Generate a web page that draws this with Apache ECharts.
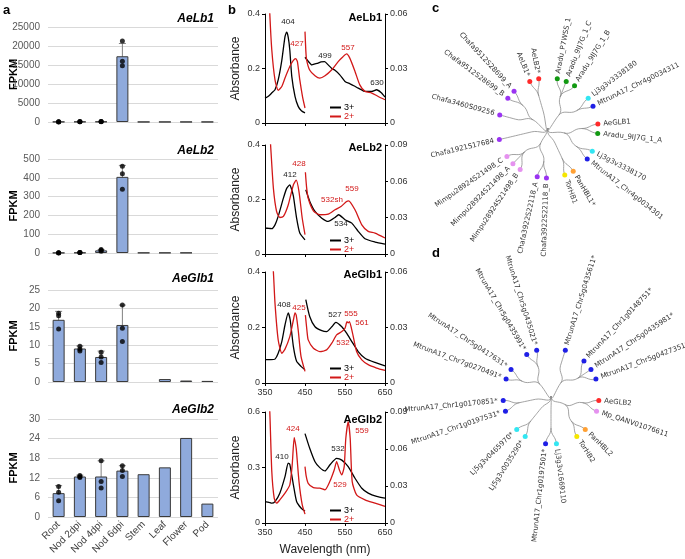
<!DOCTYPE html>
<html>
<head>
<meta charset="utf-8">
<script src="https://cdn.jsdelivr.net/npm/echarts@6/dist/echarts.min.js"></script>
<style>
  html, body { margin: 0; background: #fff; }
  #chart { width: 685px; height: 559px; }
</style>
</head>
<body>
<div id="chart"></div>
<script>
// ---------- panel a : FPKM per tissue ----------
const tissues = ['Root', 'Nod 2dpi', 'Nod 4dpi', 'Nod 6dpi', 'Stem', 'Leaf', 'Flower', 'Pod']

const lb1Mean = [60, 80, 100, 17300, 30, 30, 30, 30]
const lb1Reps = [[30, 60, 90], [50, 80, 110], [70, 100, 130], [21300, 16000, 14800], [], [], [], []]
const lb1Err = [null, null, null, [13850, 20650], null, null, null, null]

const lb2Mean = [1, 2, 14, 405, 1.5, 1.5, 1.5, null]
const lb2Reps = [[0.5, 1, 1.5], [2, 3, 2.5], [18, 14, 9], [462, 421, 339], [], [], [], []]
const lb2Err = [null, null, [9, 18], [345, 466], null, null, null, null]

const glb1Mean = [16.9, 9.1, 6.8, 15.5, null, 0.8, 0.4, 0.3]
const glb1Reps = [[18.7, 18, 14.4], [9.7, 8.9, 8.4], [8.1, 6.8, 5.3], [20.9, 14.6, 11], [], [], [], []]
const glb1Err = [[13.7, 19.2], [8.4, 9.8], [5.1, 8.4], [10.5, 20.9], null, null, null, null]

const glb2Mean = [7.3, 12.4, 12.4, 14.2, 13.1, 15.2, 24.2, 4.1]
const glb2Reps = [[9.3, 7.6, 5], [12.7, 12.1, 12.3], [17.2, 10.9, 8.9], [15.7, 14.2, 12.4], [], [], [], []]
const glb2Err = [[4.9, 9.6], [12, 12.8], [8, 17.2], [12.4, 15.7], null, null, null, null]

// ---------- panel b : absorbance spectra [nm, absorbance] ----------
const lb1Fe3Soret = [[350, 0.091], [360, 0.100], [368, 0.112], [375, 0.122], [383, 0.158], [392, 0.230], [400, 0.317], [404, 0.333], [408, 0.315], [412, 0.268], [417, 0.170], [425, 0.098], [433, 0.061], [441, 0.045], [450, 0.037]]
const lb1Fe2Soret = [[358, 0.55], [362, 0.40], [367, 0.268], [375, 0.158], [383, 0.120], [392, 0.134], [400, 0.165], [412, 0.207], [420, 0.228], [427, 0.236], [431, 0.225], [437, 0.158], [444, 0.095], [450, 0.055]]
const lb1Fe3Vis = [[450, 0.0362], [458, 0.034], [467, 0.032], [475, 0.0325], [483, 0.033], [490, 0.0336], [499, 0.0338], [508, 0.032], [517, 0.030], [525, 0.029], [537, 0.0265], [550, 0.0229], [562, 0.0216], [572, 0.0205], [583, 0.0192], [600, 0.0174], [617, 0.0174], [629, 0.0183], [640, 0.0168], [650, 0.0143]]
const lb1Fe2Vis = [[450, 0.0503], [452, 0.040], [454, 0.0348], [462, 0.029], [475, 0.026], [487, 0.0247], [500, 0.026], [517, 0.0293], [533, 0.0338], [545, 0.0365], [554, 0.038], [562, 0.0357], [575, 0.0284], [587, 0.021], [600, 0.0174], [617, 0.0165], [633, 0.0146], [650, 0.0128]]

const lb2Fe3Soret = [[350, 0.095], [360, 0.094], [367, 0.093], [375, 0.107], [383, 0.138], [396, 0.205], [404, 0.240], [412, 0.254], [417, 0.235], [421, 0.212], [429, 0.132], [437, 0.077], [450, 0.052]]
const lb2Fe2Soret = [[360, 0.50], [364, 0.40], [371, 0.241], [379, 0.156], [387, 0.134], [396, 0.138], [408, 0.180], [421, 0.254], [428, 0.271], [435, 0.229], [443, 0.132], [450, 0.071]]
const lb2Fe3Vis = [[452, 0.053], [462, 0.0434], [475, 0.0351], [492, 0.0296], [508, 0.0269], [525, 0.0302], [534, 0.0324], [550, 0.0283], [567, 0.0255], [583, 0.0187], [600, 0.0126], [625, 0.0099], [650, 0.0082]]
const lb2Fe2Vis = [[451, 0.0675], [454, 0.055], [458, 0.046], [471, 0.0357], [487, 0.0324], [508, 0.0329], [525, 0.0365], [540, 0.0392], [554, 0.0434], [559, 0.0439], [575, 0.0365], [592, 0.0241], [608, 0.0187], [625, 0.0173], [650, 0.0132]]

const glb1Fe3Soret = [[350, 0.084], [365, 0.084], [375, 0.086], [383, 0.107], [392, 0.149], [400, 0.209], [408, 0.253], [413, 0.227], [421, 0.131], [429, 0.078], [440, 0.060], [450, 0.048]]
const glb1Fe2Soret = [[368, 0.45], [371, 0.40], [375, 0.287], [383, 0.155], [392, 0.107], [400, 0.122], [412, 0.167], [421, 0.227], [425, 0.253], [428, 0.245], [433, 0.191], [440, 0.096], [450, 0.042]]
const glb1Fe3Vis = [[452, 0.0451], [462, 0.0358], [475, 0.0304], [492, 0.0283], [504, 0.0278], [517, 0.0304], [527, 0.0328], [542, 0.0304], [554, 0.0269], [567, 0.0224], [583, 0.017], [600, 0.0134], [625, 0.0111], [650, 0.0093]]
const glb1Fe2Vis = [[451, 0.0367], [455, 0.028], [458, 0.0233], [471, 0.0188], [487, 0.017], [504, 0.0179], [517, 0.0215], [529, 0.026], [542, 0.0278], [550, 0.0296], [555, 0.0331], [558, 0.0325], [561, 0.0331], [568, 0.0278], [579, 0.017], [592, 0.0125], [608, 0.0099], [629, 0.0081], [650, 0.0068]]

const glb2Fe3Soret = [[350, 0.116], [360, 0.112], [367, 0.107], [375, 0.116], [387, 0.161], [400, 0.251], [408, 0.323], [412, 0.317], [421, 0.206], [429, 0.116], [440, 0.081], [450, 0.063]]
const glb2Fe2Soret = [[358, 0.75], [362, 0.60], [367, 0.278], [373, 0.134], [379, 0.107], [387, 0.125], [400, 0.161], [412, 0.206], [418, 0.314], [423, 0.462], [428, 0.403], [435, 0.224], [443, 0.099], [450, 0.048]]
const glb2Fe3Vis = [[450, 0.0725], [462, 0.0604], [475, 0.0497], [487, 0.0449], [500, 0.0422], [512, 0.047], [529, 0.0524], [542, 0.051], [558, 0.0457], [575, 0.0363], [592, 0.0282], [608, 0.0242], [629, 0.0215], [650, 0.0201]]
const glb2Fe2Vis = [[450, 0.0457], [453, 0.038], [458, 0.0322], [471, 0.0287], [487, 0.0282], [500, 0.0269], [512, 0.0336], [523, 0.043], [529, 0.0497], [536, 0.043], [542, 0.039], [548, 0.0457], [552, 0.0685], [558, 0.082], [563, 0.0685], [568, 0.0336], [579, 0.0228], [600, 0.0188], [625, 0.0161], [650, 0.0134]]

// ---------- panels c, d : tree topology (nested leaf names) ----------
const treeC = [
  [['Aradu_P7WSS_1', 'Aradu_9IJ7G_1_C', 'Aradu_9IJ7G_1_B'], ['Lj3g3v3338180', 'MtrunA17_Chr4g0034311']],
  [['AeGLB1', 'Aradu_9IJ7G_1_A'], ['Lj3g3v3338170', 'MtrunA17_Chr4g0034301']],
  [['PanHBL1*', 'TorHB1']],
  [['Chafa3922S22118_B', 'Chafa3922S22118_A'], ['Mimpu28924S21498_B', 'Mimpu28924S21498_A', 'Mimpu28924S21498_C']],
  [['Chafa1921S17684']],
  [['Chafa3460S09256'], ['Chafa9512S28699_B', 'Chafa9512S28699_A']],
  [['AeLB1*', 'AeLB2*']]
]
const treeD = [
  [['MtrunA17_Chr5g0435611*'], ['MtrunA17_Chr1g0148751*', 'MtrunA17_Chr5g0435981*', 'MtrunA17_Chr5g0427351*']],
  [['AeGLB2', 'Mp_QANV01076611'], ['PanHBL2', 'TorHB2']],
  [['Lj3g3v1669110', 'MtrunA17_Chr1g0197501*']],
  [['Lj5g3v0035290*', 'Lj5g3v0465970*']],
  [['MtrunA17_Chr1g0197531*', 'MtrunA17_Chr1g0170851*']],
  [['MtrunA17_Chr7g0270491*', 'MtrunA17_Chr5g0417631*'], ['MtrunA17_Chr5g0435991*', 'MtrunA17_Chr5g0435021*']]
]
const speciesColors = [['Ae', '#ff2a2a'], ['Aradu', '#129912'], ['Lj', '#33e6f2'], ['Mtrun', '#1f1fe6'],
  ['Chafa', '#9a33f2'], ['Mimpu', '#e592ef'], ['Mp_', '#e592ef'], ['Pan', '#ffa033'], ['Tor', '#f5e600']]

// ---------- layout ----------
const RED = '#d21818'
const FONT = 'Liberation Sans'
const aBoxes = [[27, 122], [159, 253], [290, 382], [419, 517]]
const aScale = [[25000, 5000], [500, 100], [25, 5], [30, 6]]
const bBoxes = [[14, 123], [145, 254], [272, 383], [412, 523]]
const bLeftScale = [[0.4, 0.2], [0.4, 0.2], [0.4, 0.2], [0.6, 0.3]]
const bRightScale = [[0.06, 0.03], [0.09, 0.03], [0.06, 0.03], [0.09, 0.03]]
const legendTops = [103, 236, 364, 506]

const aSets = [
  [lb1Mean, lb1Reps, lb1Err], [lb2Mean, lb2Reps, lb2Err],
  [glb1Mean, glb1Reps, glb1Err], [glb2Mean, glb2Reps, glb2Err]
]
const bSets = [
  [lb1Fe3Soret, lb1Fe2Soret, lb1Fe3Vis, lb1Fe2Vis],
  [lb2Fe3Soret, lb2Fe2Soret, lb2Fe3Vis, lb2Fe2Vis],
  [glb1Fe3Soret, glb1Fe2Soret, glb1Fe3Vis, glb1Fe2Vis],
  [glb2Fe3Soret, glb2Fe2Soret, glb2Fe3Vis, glb2Fe2Vis]
]

const grid = [], xAxis = [], yAxis = [], series = [], legend = []

// panel a grids
aBoxes.forEach(([t, b], i) => {
  grid.push({ left: 48, width: 170, top: t, height: b - t })
  xAxis.push({
    gridIndex: i, type: 'category', data: tissues,
    axisLine: { show: false }, axisTick: { show: false },
    axisLabel: { show: i === 3, rotate: 45, fontSize: 10, color: '#404040', margin: 6, interval: 0, fontFamily: FONT }
  })
  yAxis.push({
    gridIndex: i, type: 'value', min: 0, max: aScale[i][0], interval: aScale[i][1],
    axisLine: { show: false }, axisTick: { show: false },
    axisLabel: { fontSize: 10, color: '#595959', margin: 8, fontFamily: FONT, formatter: v => String(v) },
    splitLine: { lineStyle: { color: '#d9d9d9' } },
    name: 'FPKM', nameLocation: 'middle', nameGap: 29, nameMoveOverlap: false,
    nameTextStyle: { fontWeight: 'bold', fontSize: 11, color: '#000', fontFamily: FONT }
  })
  const [mean, reps, err] = aSets[i]
  series.push({
    type: 'bar', xAxisIndex: i, yAxisIndex: i, data: mean, barWidth: 12,
    itemStyle: { color: '#8faadc', borderColor: '#3a3a3a', borderWidth: 1 }
  })
  series.push({
    type: 'custom', xAxisIndex: i, yAxisIndex: i,
    data: err.map((e, k) => e ? [k, e[0], e[1]] : null).filter(Boolean),
    renderItem: (params, api) => {
      const lo = api.coord([api.value(0), api.value(1)])
      const hi = api.coord([api.value(0), api.value(2)])
      const st = { stroke: '#808080', lineWidth: 1 }
      return {
        type: 'group', children: [
          { type: 'line', shape: { x1: lo[0], y1: lo[1], x2: hi[0], y2: hi[1] }, style: st },
          { type: 'line', shape: { x1: hi[0] - 3.5, y1: hi[1], x2: hi[0] + 3.5, y2: hi[1] }, style: st },
          { type: 'line', shape: { x1: lo[0] - 3.5, y1: lo[1], x2: lo[0] + 3.5, y2: lo[1] }, style: st }
        ]
      }
    }
  })
  series.push({
    type: 'scatter', xAxisIndex: i, yAxisIndex: i, symbolSize: 5,
    itemStyle: { color: '#000' },
    data: reps.flatMap((r, k) => r.map(v => [k, v]))
  })
})

// panel b grids
bBoxes.forEach(([t, b], k) => {
  const gi = 4 + k
  grid.push({ left: 265, right: 300, top: t, height: b - t })
  xAxis.push({
    gridIndex: gi, type: 'value', min: 350, max: 650, interval: 100,
    axisLine: { lineStyle: { color: '#000' } },
    axisTick: { length: 3, lineStyle: { color: '#000' } },
    axisLabel: { show: k >= 2, fontSize: 9, color: '#333', margin: 5, fontFamily: FONT },
    splitLine: { show: false }
  })
  yAxis.push({
    gridIndex: gi, type: 'value', position: 'left', min: 0, max: bLeftScale[k][0], interval: bLeftScale[k][1],
    axisLine: { show: true, lineStyle: { color: '#000' } },
    axisTick: { show: true, length: 3, lineStyle: { color: '#000' } },
    axisLabel: { fontSize: 9, color: '#333', margin: 5, fontFamily: FONT },
    splitLine: { show: false },
    name: 'Absorbance', nameLocation: 'middle', nameGap: 23,
    nameTextStyle: { fontSize: 12, color: '#222', fontFamily: FONT }
  })
  yAxis.push({
    gridIndex: gi, type: 'value', position: 'right', min: 0, max: bRightScale[k][0], interval: bRightScale[k][1],
    axisLine: { show: true, lineStyle: { color: '#000' } },
    axisTick: { show: true, length: 3, lineStyle: { color: '#000' } },
    axisLabel: { fontSize: 9, color: '#333', margin: 5, fontFamily: FONT },
    splitLine: { show: false }
  })
  const [f3s, f2s, f3v, f2v] = bSets[k]
  const line = (name, yi, data, color) => ({
    type: 'line', name, xAxisIndex: gi, yAxisIndex: yi, data, smooth: 0.2, symbol: 'none',
    lineStyle: { color, width: 1.3 }, itemStyle: { color }, clip: true
  })
  const yl = 4 + 2 * k, yr = 5 + 2 * k
  series.push(line('3+', yl, f3s, '#000'), line('2+', yl, f2s, RED),
              line('3+', yr, f3v, '#000'), line('2+', yr, f2v, RED))
  legend.push({
    left: 330, top: legendTops[k], orient: 'vertical', itemGap: 0, itemWidth: 11, itemHeight: 2,
    icon: 'rect', selectedMode: false, padding: 0,
    textStyle: { fontSize: 9, fontFamily: FONT, padding: [0, 0, 0, -2] },
    data: [{ name: '3+', textStyle: { color: '#000' } }, { name: '2+', textStyle: { color: RED } }]
  })
})

// trees
const leafColor = name => (speciesColors.find(([p]) => name.startsWith(p)) || ['', '#888'])[1]
const toNode = x => typeof x === 'string'
  ? { name: x, symbol: 'circle', itemStyle: { color: leafColor(x) } }
  : { name: '', children: x.map(toNode) }
const treeSeries = (tree, left, top, size) => ({
  type: 'tree', layout: 'radial', data: [toNode(tree)],
  left, top, width: size, height: size,
  symbol: 'none', symbolSize: 5, expandAndCollapse: false, roam: false,
  edgeShape: 'curve',
  lineStyle: { color: '#8c8c8c', width: 0.8, curveness: 0.5 },
  label: { show: false },
  leaves: { label: { show: true, fontSize: 7, color: '#333', fontFamily: 'DejaVu Sans', distance: 3 } }
})
series.push(treeSeries(treeC, 498, 78, 100))
series.push(treeSeries(treeD, 503, 348, 96))

// text annotations
const txt = (x, y, text, o = {}) => ({
  type: 'text', x, y,
  style: Object.assign({ text, fontFamily: FONT, fontSize: 8, fill: '#222', align: 'center', verticalAlign: 'middle' }, o)
})
const graphic = [
  txt(3, 10, 'a', { fontSize: 13, fontWeight: 'bold', align: 'left', fill: '#000' }),
  txt(228, 10, 'b', { fontSize: 13, fontWeight: 'bold', align: 'left', fill: '#000' }),
  txt(432, 8, 'c', { fontSize: 13, fontWeight: 'bold', align: 'left', fill: '#000' }),
  txt(432, 253, 'd', { fontSize: 13, fontWeight: 'bold', align: 'left', fill: '#000' }),
  txt(214, 19, 'AeLb1', { fontSize: 12, fontWeight: 'bold', fontStyle: 'italic', align: 'right', fill: '#000' }),
  txt(214, 151, 'AeLb2', { fontSize: 12, fontWeight: 'bold', fontStyle: 'italic', align: 'right', fill: '#000' }),
  txt(214, 279, 'AeGlb1', { fontSize: 12, fontWeight: 'bold', fontStyle: 'italic', align: 'right', fill: '#000' }),
  txt(214, 410, 'AeGlb2', { fontSize: 12, fontWeight: 'bold', fontStyle: 'italic', align: 'right', fill: '#000' }),
  txt(382, 18, 'AeLb1', { fontSize: 11, fontWeight: 'bold', align: 'right', fill: '#000' }),
  txt(382, 148, 'AeLb2', { fontSize: 11, fontWeight: 'bold', align: 'right', fill: '#000' }),
  txt(382, 275, 'AeGlb1', { fontSize: 11, fontWeight: 'bold', align: 'right', fill: '#000' }),
  txt(382, 420, 'AeGlb2', { fontSize: 11, fontWeight: 'bold', align: 'right', fill: '#000' }),
  txt(325, 550, 'Wavelength (nm)', { fontSize: 12 }),
  // peak labels
  txt(288, 22, '404'), txt(297, 44, '427', { fill: RED }), txt(325, 56, '499'),
  txt(348, 48, '557', { fill: RED }), txt(377, 83, '630'),
  txt(290, 175, '412'), txt(299, 164, '428', { fill: RED }), txt(332, 200, '532sh', { fill: RED }),
  txt(352, 189, '559', { fill: RED }), txt(341, 224, '534'),
  txt(284, 305, '408'), txt(299, 308, '425', { fill: RED }), txt(335, 315, '527'),
  txt(351, 314, '555', { fill: RED }), txt(362, 323, '561', { fill: RED }), txt(343, 343, '532', { fill: RED }),
  txt(282, 457, '410'), txt(293, 429, '424', { fill: RED }), txt(338, 449, '532'),
  txt(362, 431, '559', { fill: RED }), txt(340, 485, '529', { fill: RED })
]

const chart = echarts.init(document.getElementById('chart'))
chart.setOption({
  animation: false,
  textStyle: { fontFamily: FONT },
  grid, xAxis, yAxis, series, legend, graphic
})
</script>
</body>
</html>
